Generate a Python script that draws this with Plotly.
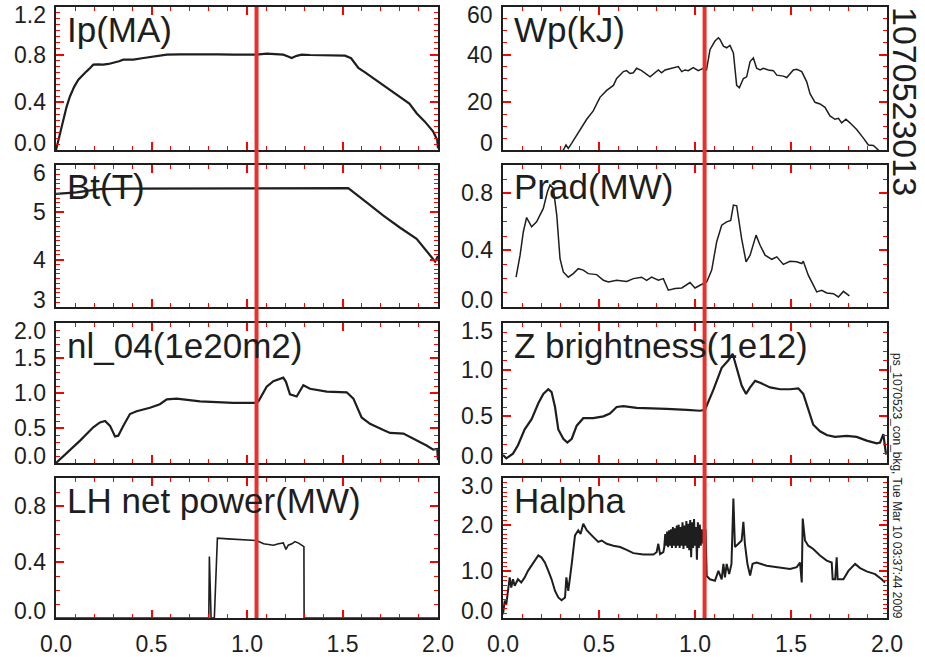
import plotly.graph_objects as go

# ---------------- shot 1070523013 traces (time in s) ----------------
ip_t = [0.0, 0.02, 0.038, 0.055, 0.073, 0.095, 0.117, 0.14, 0.16, 0.18, 0.195, 0.22, 0.247,
        0.275, 0.30, 0.33, 0.352, 0.38, 0.405, 0.45, 0.492, 0.54, 0.58, 0.65, 0.754, 0.85,
        0.93, 1.00, 1.05, 1.103, 1.15, 1.19, 1.215, 1.234, 1.26, 1.286, 1.33, 1.365, 1.44,
        1.513, 1.545, 1.583, 1.62, 1.662, 1.73, 1.80, 1.85, 1.888, 1.93, 1.975, 1.996, 2.0]
ip_v = [0.0, 0.14, 0.25, 0.36, 0.449, 0.53, 0.59, 0.63, 0.66, 0.69, 0.716, 0.718, 0.716,
        0.722, 0.73, 0.745, 0.758, 0.76, 0.758, 0.77, 0.78, 0.79, 0.80, 0.803, 0.805, 0.803,
        0.80, 0.80, 0.80, 0.808, 0.803, 0.80, 0.785, 0.772, 0.79, 0.80, 0.797, 0.795, 0.794,
        0.792, 0.77, 0.688, 0.65, 0.603, 0.53, 0.449, 0.39, 0.309, 0.24, 0.154, 0.084, 0.014]

bt_t = [0.0, 0.05, 0.108, 0.17, 0.23, 0.4, 0.7, 1.0, 1.3, 1.53, 1.626, 1.714, 1.80, 1.888,
        1.975, 1.985, 2.0]
bt_v = [5.39, 5.40, 5.42, 5.46, 5.49, 5.50, 5.50, 5.51, 5.51, 5.51, 5.21, 4.93, 4.68, 4.44,
        4.01, 3.96, 4.08]

nl_t = [0.0, 0.056, 0.126, 0.195, 0.23, 0.257, 0.283, 0.309, 0.326, 0.352, 0.387, 0.422,
        0.492, 0.544, 0.58, 0.632, 0.754, 0.928, 1.042, 1.06, 1.103, 1.138, 1.19, 1.204,
        1.225, 1.26, 1.295, 1.33, 1.418, 1.522, 1.557, 1.60, 1.644, 1.714, 1.749, 1.819,
        1.871, 1.94, 1.975, 1.996, 2.0]
nl_v = [0.0, 0.136, 0.32, 0.51, 0.58, 0.60, 0.53, 0.38, 0.39, 0.53, 0.70, 0.74, 0.79, 0.84,
        0.91, 0.92, 0.88, 0.86, 0.86, 0.88, 1.09, 1.17, 1.22, 1.16, 0.98, 0.95, 1.11, 1.06,
        1.02, 1.01, 0.92, 0.65, 0.56, 0.47, 0.43, 0.42, 0.35, 0.25, 0.19, 0.20, 0.04]

lh_t = [0.0, 0.80, 0.803, 0.812, 0.829, 0.845, 0.90, 0.95, 1.00, 1.05, 1.087, 1.11, 1.138,
        1.165, 1.19, 1.204, 1.216, 1.235, 1.251, 1.27, 1.286, 1.298, 1.299, 2.0]
lh_v = [0.0, 0.0, 0.44, 0.0, 0.0, 0.57, 0.565, 0.56, 0.558, 0.553, 0.53, 0.525, 0.52, 0.53,
        0.536, 0.49, 0.52, 0.53, 0.546, 0.535, 0.52, 0.51, 0.0, 0.0]

wp_t = [0.29, 0.314, 0.328, 0.34, 0.358, 0.401, 0.436, 0.47, 0.505, 0.54, 0.575, 0.592,
        0.627, 0.644, 0.661, 0.679, 0.696, 0.722, 0.766, 0.809, 0.826, 0.844, 0.887, 0.913,
        0.931, 0.948, 0.965, 0.991, 1.017, 1.043, 1.06, 1.078, 1.104, 1.122, 1.13, 1.148,
        1.165, 1.182, 1.20, 1.217, 1.231, 1.252, 1.269, 1.287, 1.304, 1.321, 1.339, 1.356,
        1.382, 1.408, 1.426, 1.46, 1.478, 1.512, 1.53, 1.556, 1.582, 1.599, 1.625, 1.651,
        1.677, 1.703, 1.729, 1.747, 1.764, 1.786, 1.807, 1.842, 1.877, 1.903, 1.929, 1.964]
wp_v = [-2.0, 0.0, 2.1, 0.7, 2.9, 8.6, 12.9, 16.4, 22.1, 25.0, 27.1, 30.0, 32.9, 33.3, 32.1,
        32.4, 34.3, 33.3, 30.7, 33.6, 32.4, 33.6, 34.3, 35.0, 32.9, 33.6, 33.3, 34.6, 33.3,
        34.3, 33.6, 42.1, 45.7, 47.1, 46.4, 43.6, 42.9, 43.9, 40.7, 27.1, 26.1, 30.0, 30.7,
        37.1, 38.6, 34.3, 33.6, 34.3, 33.6, 33.3, 31.4, 31.0, 30.4, 33.6, 33.9, 32.9, 28.6,
        23.6, 20.0, 19.3, 17.9, 14.3, 12.9, 13.3, 11.4, 12.9, 11.4, 8.6, 5.0, 2.1, 1.9, -0.7]

prad_t = [0.068, 0.089, 0.106, 0.123, 0.149, 0.175, 0.21, 0.231, 0.245, 0.262, 0.28, 0.297,
          0.314, 0.34, 0.366, 0.392, 0.418, 0.444, 0.488, 0.523, 0.549, 0.592, 0.644, 0.679,
          0.722, 0.748, 0.774, 0.809, 0.835, 0.861, 0.896, 0.931, 0.974, 1.0, 1.026, 1.061,
          1.087, 1.113, 1.139, 1.165, 1.186, 1.20, 1.217, 1.243, 1.266, 1.287, 1.318, 1.339,
          1.365, 1.40, 1.426, 1.46, 1.495, 1.53, 1.556, 1.564, 1.59, 1.634, 1.66, 1.686,
          1.721, 1.747, 1.773, 1.804]
prad_v = [0.21, 0.365, 0.53, 0.63, 0.565, 0.60, 0.694, 0.81, 0.86, 0.835, 0.647, 0.34, 0.247,
          0.21, 0.235, 0.27, 0.26, 0.235, 0.228, 0.188, 0.176, 0.188, 0.18, 0.20, 0.21, 0.188,
          0.21, 0.188, 0.20, 0.118, 0.13, 0.134, 0.172, 0.134, 0.153, 0.176, 0.26, 0.46, 0.576,
          0.60, 0.61, 0.718, 0.713, 0.48, 0.318, 0.365, 0.506, 0.435, 0.365, 0.336, 0.353, 0.30,
          0.322, 0.318, 0.306, 0.322, 0.224, 0.106, 0.118, 0.099, 0.094, 0.071, 0.11, 0.078]

zb_t = [0.0, 0.017, 0.052, 0.078, 0.113, 0.149, 0.184, 0.21, 0.236, 0.253, 0.271, 0.288,
        0.314, 0.335, 0.358, 0.384, 0.418, 0.47, 0.523, 0.557, 0.592, 0.627, 0.696, 0.783,
        0.852, 0.957, 1.026, 1.052, 1.095, 1.139, 1.174, 1.196, 1.217, 1.243, 1.266, 1.287,
        1.313, 1.339, 1.391, 1.443, 1.495, 1.538, 1.564, 1.59, 1.616, 1.651, 1.686, 1.729,
        1.79, 1.842, 1.894, 1.946, 1.964, 1.981, 1.99, 1.995]
zb_v = [0.086, 0.05, 0.10, 0.19, 0.36, 0.47, 0.64, 0.74, 0.79, 0.76, 0.60, 0.36, 0.26, 0.22,
        0.26, 0.40, 0.48, 0.48, 0.50, 0.53, 0.60, 0.61, 0.59, 0.58, 0.58, 0.57, 0.56, 0.57,
        0.78, 1.02, 1.10, 1.17, 1.02, 0.83, 0.74, 0.81, 0.88, 0.86, 0.81, 0.79, 0.79, 0.80,
        0.74, 0.57, 0.41, 0.34, 0.30, 0.28, 0.29, 0.28, 0.24, 0.21, 0.22, 0.31, 0.16, 0.09]

ha_t = [0.0, 0.009, 0.017, 0.026, 0.035, 0.043, 0.052, 0.061, 0.078, 0.095, 0.113, 0.13,
        0.156, 0.184, 0.20, 0.218, 0.236, 0.253, 0.271, 0.288, 0.305, 0.323, 0.33, 0.34,
        0.358, 0.375, 0.392, 0.404, 0.418, 0.436, 0.462, 0.479, 0.496, 0.514, 0.54, 0.575,
        0.61, 0.644, 0.679, 0.731, 0.783, 0.80, 0.809, 0.818, 0.835,
        0.840, 0.845, 0.850, 0.855, 0.860, 0.865, 0.870, 0.875, 0.880, 0.885, 0.890, 0.895,
        0.900, 0.905, 0.910, 0.915, 0.920, 0.925, 0.930, 0.935, 0.940, 0.945, 0.950, 0.955,
        0.960, 0.965, 0.970, 0.975, 0.980, 0.985, 0.990, 0.995, 1.000, 1.005, 1.010, 1.015,
        1.020, 1.025, 1.030, 1.035, 1.040, 1.045, 1.050, 1.055,
        1.061, 1.078, 1.104, 1.122, 1.139, 1.148, 1.156, 1.165, 1.178, 1.19, 1.20, 1.208,
        1.226, 1.243, 1.252, 1.26, 1.273, 1.287, 1.30, 1.321, 1.373, 1.426, 1.495, 1.53,
        1.547, 1.556, 1.561, 1.573, 1.59, 1.616, 1.651, 1.686, 1.712, 1.717, 1.73, 1.738,
        1.743, 1.773, 1.799, 1.834, 1.86, 1.894, 1.938, 1.972, 1.99]
ha_v = [0.08, 0.37, 0.29, 0.58, 0.87, 0.65, 0.83, 0.69, 0.83, 0.76, 0.87, 1.01,
        1.16, 1.34, 1.30, 1.19, 1.01, 0.83, 0.58, 0.44, 0.38, 0.44, 0.87, 0.58,
        1.16, 1.77, 1.88, 1.80, 2.02, 1.88, 1.77, 1.70, 1.63, 1.66, 1.59, 1.55,
        1.52, 1.46, 1.39, 1.36, 1.36, 1.41, 1.59, 1.37, 1.41,
        1.52, 1.80, 1.55, 1.85, 1.52, 1.88, 1.55, 1.90, 1.50, 1.95, 1.55, 1.92,
        1.50, 1.98, 1.55, 2.00, 1.50, 1.95, 1.55, 2.05, 1.48, 1.98, 1.55, 2.08,
        1.50, 2.02, 1.45, 2.10, 1.30, 2.05, 1.50, 2.12, 1.55, 1.95, 1.25, 2.05,
        1.50, 2.00, 1.55, 1.90, 1.60, 1.88, 1.70, 1.90,
        0.90, 0.83, 0.80, 1.01, 0.83, 1.16, 0.87, 1.16, 0.94, 1.16, 2.56, 1.52,
        1.59, 1.66, 2.06, 1.59, 1.16, 0.91, 1.16, 1.19, 1.12, 1.09, 1.05, 1.09,
        1.19, 0.76, 2.13, 1.66, 1.55, 1.48, 1.34, 1.23, 1.19, 0.83, 0.83, 1.30,
        0.83, 0.83, 1.01, 1.16, 1.07, 1.00, 0.94, 0.83, 0.76]

# panel titles, y ranges and tick values
titles = ["Ip(MA)", "Wp(kJ)", "Bt(T)", "Prad(MW)",
          "nl_04(1e20m2)", "Z brightness(1e12)", "LH net power(MW)", "Halpha"]
y_ranges = [[0, 1.2], [0, 60], [3, 6], [0, 1.0], [0, 2.0], [0, 1.5], [0, 1.0], [0, 3.0]]
y_ticks = [[0.0, 0.4, 0.8, 1.2], [0, 20, 40, 60], [3, 4, 5, 6], [0.0, 0.4, 0.8],
           [0.0, 0.5, 1.0, 1.5, 2.0], [0.0, 0.5, 1.0, 1.5], [0.0, 0.4, 0.8],
           [0.0, 1.0, 2.0, 3.0]]
y_minor = [0.05, 5, 0.1, 0.1, 0.1, 0.1, 0.1, 0.1]
y_fmt = ["{:.1f}", "{:.0f}", "{:.0f}", "{:.1f}", "{:.1f}", "{:.1f}", "{:.1f}", "{:.1f}"]
marker_time = 1.05
shot_label = "1070523013"
footer = "ps_1070523_con_bkg, Tue Mar 10 03:37:44 2009"

series = [(ip_t, ip_v, 2.2), (wp_t, wp_v, 1.5), (bt_t, bt_v, 2.2), (prad_t, prad_v, 1.5),
          (nl_t, nl_v, 2.2), (zb_t, zb_v, 2.2), (lh_t, lh_v, 1.6), (ha_t, ha_v, 2.0)]

# ---------------- layout geometry (pixels of a 925 x 657 page) ----------------
W, H = 925, 657
col_px = [(56, 438), (503, 887)]
row_px = [(7, 150), (165, 307), (323, 463), (478, 618)]
INK = "#1e1e1e"
TICKC = "#ff0000"
FONT = "Liberation Sans, Arial, Helvetica, sans-serif"
TICK_SIZE = 23

fig = go.Figure()
axes_layout = {}
annotations = []
for i in range(8):
    row, col = divmod(i, 2)
    n = i + 1
    xa = "x" if n == 1 else f"x{n}"
    ya = "y" if n == 1 else f"y{n}"
    t, v, lw = series[i]
    fig.add_trace(go.Scatter(x=t, y=v, mode="lines", xaxis=xa, yaxis=ya,
                             line=dict(color=INK, width=lw)))
    x0, x1 = col_px[col]
    y0, y1 = row_px[row]
    axes_layout["xaxis" if n == 1 else f"xaxis{n}"] = dict(
        domain=[x0 / W, x1 / W], anchor=ya, range=[0, 2])
    axes_layout["yaxis" if n == 1 else f"yaxis{n}"] = dict(
        domain=[1 - y1 / H, 1 - y0 / H], anchor=xa, range=y_ranges[i])

    yt = y_ticks[i]
    lo, hi = y_ranges[i]
    for val in yt:
        shift = 0
        if val == lo:
            shift = 7
        elif val == hi:
            shift = -8
        annotations.append(dict(
            text=y_fmt[i].format(val), x=(x0 - 8) / W, y=val, xref="paper", yref=ya,
            xanchor="right", yanchor="middle", yshift=shift, showarrow=False,
            font=dict(size=TICK_SIZE, family=FONT, color=INK),
        ))
    annotations.append(dict(
        text=titles[i], x=(x0 + 9) / W, y=1 - (y0 + 22) / H, xref="paper", yref="paper",
        xanchor="left", yanchor="middle", showarrow=False,
        font=dict(size=35, family=FONT, color=INK),
    ))

fig.update_layout(width=W, height=H, template="none",
                  margin=dict(l=0, r=0, t=0, b=0, autoexpand=False),
                  showlegend=False, **axes_layout)

fig.update_xaxes(showline=True, linecolor=INK, linewidth=1.5, mirror="allticks",
                 ticks="inside", ticklen=8, tickwidth=1.5, tickcolor=TICKC, dtick=0.5,
                 showgrid=False, zeroline=False,
                 minor=dict(ticks="inside", ticklen=4, dtick=0.1, tickcolor=TICKC,
                            tickwidth=1))
fig.update_yaxes(showline=True, linecolor=INK, linewidth=1.5, mirror="allticks",
                 ticks="inside", ticklen=8, tickwidth=1.5, tickcolor=TICKC,
                 showgrid=False, zeroline=False, showticklabels=False,
                 minor=dict(ticks="inside", ticklen=4, tickcolor=TICKC, tickwidth=1))
for i in range(8):
    n = i + 1
    yt = y_ticks[i]
    fig.layout["yaxis" if n == 1 else f"yaxis{n}"].update(
        tick0=yt[0], dtick=yt[1] - yt[0], minor=dict(dtick=y_minor[i]))
    fig.layout["xaxis" if n == 1 else f"xaxis{n}"].update(
        showticklabels=(i >= 6), tickformat=".1f", ticklabelstandoff=5,
        tickfont=dict(size=TICK_SIZE, family=FONT, color=INK))

annotations.append(dict(text=shot_label, x=905 / W, y=1 - 101 / H, xref="paper", yref="paper",
                        textangle=90, showarrow=False, xanchor="center", yanchor="middle",
                        font=dict(size=34, family=FONT, color=INK)))
annotations.append(dict(text=footer, x=897 / W, y=1 - 486 / H, xref="paper", yref="paper",
                        textangle=90, showarrow=False, xanchor="center", yanchor="middle",
                        font=dict(size=12, family=FONT, color=INK)))

shapes = []
for xref in ["x7", "x8"]:
    shapes.append(dict(type="line", xref=xref, yref="paper", x0=marker_time, x1=marker_time,
                       y0=1 - row_px[3][1] / H, y1=1 - row_px[0][0] / H,
                       line=dict(color="#e8302c", width=4), layer="above"))

fig.update_layout(annotations=annotations, shapes=shapes, font=dict(family=FONT, color=INK))
fig.write_html("out.html")
